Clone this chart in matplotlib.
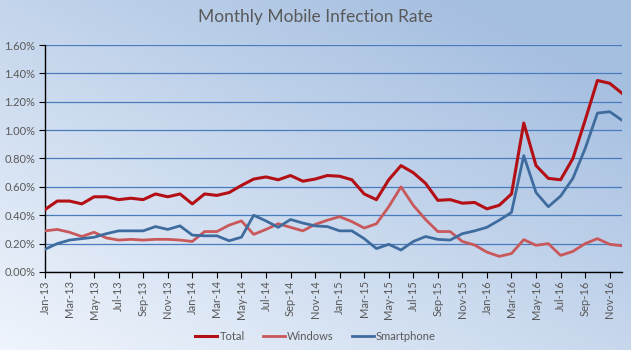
import matplotlib
matplotlib.use('Agg')
import matplotlib.pyplot as plt
import matplotlib.ticker as mticker
import numpy as np

months = ['Jan', 'Feb', 'Mar', 'Apr', 'May', 'Jun',
          'Jul', 'Aug', 'Sep', 'Oct', 'Nov', 'Dec']
years = ['13', '14', '15', '16']
labels = [f'{m}-{y}' for y in years for m in months]

# infection rate in percent
total = [0.44, 0.50, 0.50, 0.48, 0.53, 0.53, 0.51, 0.52, 0.51, 0.55, 0.53, 0.55,
         0.48, 0.55, 0.54, 0.56, 0.61, 0.655, 0.67, 0.65, 0.68, 0.64, 0.655, 0.68,
         0.675, 0.65, 0.55, 0.51, 0.65, 0.75, 0.70, 0.625, 0.505, 0.51, 0.485, 0.49,
         0.445, 0.47, 0.55, 1.05, 0.75, 0.66, 0.65, 0.80, 1.07, 1.35, 1.33, 1.26]
windows = [0.29, 0.30, 0.28, 0.25, 0.28, 0.24, 0.225, 0.23, 0.225, 0.23, 0.23, 0.225,
           0.215, 0.285, 0.285, 0.33, 0.36, 0.265, 0.30, 0.34, 0.315, 0.29, 0.335, 0.365,
           0.39, 0.355, 0.31, 0.34, 0.46, 0.60, 0.47, 0.37, 0.285, 0.285, 0.215, 0.19,
           0.14, 0.11, 0.13, 0.228, 0.188, 0.20, 0.117, 0.145, 0.20, 0.235, 0.195, 0.185]
smartphone = [0.16, 0.20, 0.225, 0.235, 0.245, 0.27, 0.29, 0.29, 0.29, 0.32, 0.30, 0.325,
              0.26, 0.255, 0.255, 0.22, 0.245, 0.40, 0.36, 0.315, 0.37, 0.345, 0.325, 0.32,
              0.29, 0.29, 0.235, 0.165, 0.195, 0.155, 0.215, 0.25, 0.23, 0.225, 0.27, 0.29,
              0.315, 0.365, 0.42, 0.82, 0.56, 0.46, 0.535, 0.66, 0.87, 1.12, 1.13, 1.07]

plt.rcParams['font.family'] = ['Lato', 'DejaVu Sans']

fig = plt.figure(figsize=(6.31, 3.5), dpi=100)

# diagonal gradient background: pale bottom-left, blue top-right
bg = fig.add_axes([0, 0, 1, 1], zorder=-10)
gx, gy = np.meshgrid(np.linspace(0, 1, 300), np.linspace(0, 1, 200))
t = np.clip(0.55 * gx + 0.6 * gy, 0, 1)
c0 = np.array([0.94, 0.96, 0.99])
c1 = np.array([0.65, 0.75, 0.88])
img = c0[None, None, :] * (1 - t[..., None]) + c1[None, None, :] * t[..., None]
bg.imshow(img, origin='lower', aspect='auto', extent=[0, 1, 0, 1])
bg.axis('off')

ax = fig.add_axes([0.0713, 0.2229, 0.9144, 0.6485])
ax.patch.set_alpha(0)

x = np.arange(len(labels))
ax.plot(x, total, color='#b30f14', lw=2.2, label='Total', zorder=4)
ax.plot(x, windows, color='#c9585a', lw=2.0, label='Windows', zorder=3)
ax.plot(x, smartphone, color='#3f6c9e', lw=2.0, label='Smartphone', zorder=3)

ax.set_xlim(0, len(labels) - 1)
ax.set_ylim(0, 1.6)
ax.yaxis.set_major_locator(mticker.MultipleLocator(0.2))
ax.yaxis.set_major_formatter(mticker.FuncFormatter(lambda v, p: f'{v:.2f}%'))
ax.set_xticks(x[::2])
ax.set_xticklabels(labels[::2], rotation=90)

ax.grid(axis='y', color='#4a7bbd', lw=0.9)
ax.set_axisbelow(True)
for s in ['top', 'right']:
    ax.spines[s].set_visible(False)
for s in ['left', 'bottom']:
    ax.spines[s].set_color('black')
    ax.spines[s].set_linewidth(1.0)
ax.tick_params(axis='both', direction='out', length=4, color='black',
               labelsize=8, labelcolor='#595959')
ax.tick_params(axis='y', pad=3)
ax.tick_params(axis='x', pad=2)

fig.suptitle('Monthly Mobile Infection Rate', y=0.975, fontsize=12.5, color='#595959')

fig.legend(loc='lower center', bbox_to_anchor=(0.5, -0.005), ncol=3, frameon=False,
           fontsize=8, labelcolor='#595959', handlelength=2.0, columnspacing=1.6,
           handletextpad=0.2)

plt.savefig('out.png', dpi=100)
